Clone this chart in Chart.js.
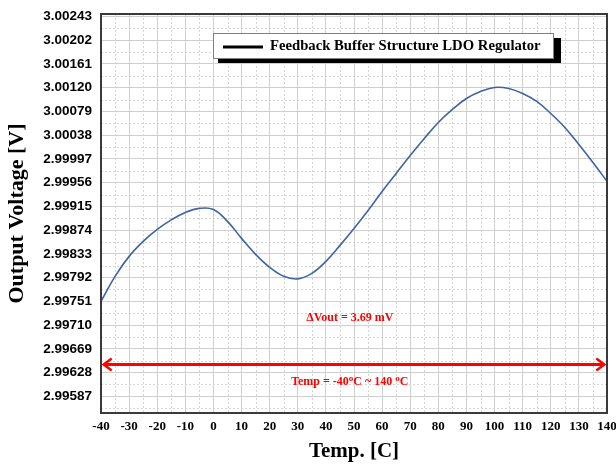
<!DOCTYPE html>
<html>
<head>
<meta charset="utf-8">
<script src="https://cdn.jsdelivr.net/npm/chart.js@4.4.1/dist/chart.umd.min.js"></script>
<style>
html, body { margin: 0; padding: 0; background: #fff; }
#caixa { width: 616px; height: 468px; position: relative; }
</style>
</head>
<body>
<div id="caixa"><canvas id="graficoTensao"></canvas></div>
<script>
// temperatura (C) e tensao de saida (V)
const temperaturas = [-40, -35, -30, -25, -20, -15, -10, -5, 0, 5, 10, 15, 20, 25, 30, 35, 40, 45, 50, 55, 60, 65, 70, 75, 80, 85, 90, 95, 100, 105, 110, 115, 120, 125, 130, 135, 140];
const tensoes = [2.99751, 2.997942, 2.998287, 2.998546, 2.998753, 2.998917, 2.999046, 2.999116, 2.999098, 2.998891, 2.998598, 2.998321, 2.998097, 2.997942, 2.997898, 2.997993, 2.998201, 2.998477, 2.99877, 2.999081, 2.999409, 2.99972, 3.00003, 3.000324, 3.0006, 3.000825, 3.001014, 3.001135, 3.001204, 3.001187, 3.001101, 3.000963, 3.000755, 3.000514, 3.00022, 2.99991, 2.999582];
const ticksY = [2.99587, 2.99628, 2.99669, 2.99710, 2.99751, 2.99792, 2.99833, 2.99874, 2.99915, 2.99956, 2.99997, 3.00038, 3.00079, 3.00120, 3.00161, 3.00202, 3.00243];
const ticksX = [-40, -30, -20, -10, 0, 10, 20, 30, 40, 50, 60, 70, 80, 90, 100, 110, 120, 130, 140];
const nomeSerie = 'Feedback Buffer Structure LDO Regulator';
const textoDelta = 'ΔVout = 3.69 mV';

const ctx = document.getElementById('graficoTensao');

const extras = {
    id: 'extras',
    beforeDatasetsDraw(chart) {
        const { ctx, chartArea: a, scales: { x, y } } = chart;
        ctx.save();
        ctx.strokeStyle = '#d6d6d6';
        ctx.lineWidth = 1;
        ctx.setLineDash([2, 2]);
        // grade secundaria tracejada
        for (let i = 0; i < ticksX.length - 1; i++) {
            const px = Math.round(x.getPixelForValue((ticksX[i] + ticksX[i + 1]) / 2)) + 0.5;
            ctx.beginPath(); ctx.moveTo(px, a.top); ctx.lineTo(px, a.bottom); ctx.stroke();
        }
        const passo = ticksY[1] - ticksY[0];
        const meios = ticksY.slice(0, -1).map(v => v + passo / 2);
        meios.push(ticksY[0] - passo / 2);
        meios.forEach(v => {
            if (v < y.min || v > y.max) return;
            const py = Math.round(y.getPixelForValue(v)) + 0.5;
            ctx.beginPath(); ctx.moveTo(a.left, py); ctx.lineTo(a.right, py); ctx.stroke();
        });
        ctx.restore();
    },
    afterDatasetsDraw(chart) {
        const { ctx, chartArea: a, scales: { x, y } } = chart;
        ctx.save();

        // moldura
        ctx.strokeStyle = '#3a3a3a';
        ctx.lineWidth = 2;
        ctx.strokeRect(a.left, a.top, a.right - a.left, a.bottom - a.top);

        // seta vermelha
        const ys = y.getPixelForValue(2.99642);
        const x1 = x.getPixelForValue(-39.4);
        const x2 = x.getPixelForValue(139.4);
        ctx.strokeStyle = '#ff0000';
        ctx.fillStyle = '#ff0000';
        ctx.lineWidth = 3;
        ctx.beginPath(); ctx.moveTo(x1 + 2, ys); ctx.lineTo(x2 - 2, ys); ctx.stroke();
        ctx.lineWidth = 2.5;
        ctx.beginPath(); ctx.moveTo(x1 + 9, ys - 6); ctx.lineTo(x1 + 1, ys); ctx.lineTo(x1 + 9, ys + 6); ctx.stroke();
        ctx.beginPath(); ctx.moveTo(x2 - 9, ys - 6); ctx.lineTo(x2 - 1, ys); ctx.lineTo(x2 - 9, ys + 6); ctx.stroke();

        // textos vermelhos
        ctx.font = 'bold 12px "Liberation Serif"';
        ctx.textAlign = 'center';
        ctx.textBaseline = 'middle';
        ctx.fillText(textoDelta, x.getPixelForValue(48.5), y.getPixelForValue(2.997217));

        const partes = [['Temp = -40', false], ['o', true], ['C ~ 140 ', false], ['o', true], ['C', false]];
        const fNormal = 'bold 12px "Liberation Serif"';
        const fSup = 'bold 9px "Liberation Serif"';
        let largura = 0;
        partes.forEach(([t, sup]) => { ctx.font = sup ? fSup : fNormal; largura += ctx.measureText(t).width; });
        let cx = x.getPixelForValue(48.5) - largura / 2;
        const cy = y.getPixelForValue(2.996112);
        ctx.textAlign = 'left';
        partes.forEach(([t, sup]) => {
            ctx.font = sup ? fSup : fNormal;
            ctx.fillText(t, cx, sup ? cy - 4 : cy);
            cx += ctx.measureText(t).width;
        });

        // legenda com sombra
        ctx.fillStyle = '#000';
        ctx.fillRect(218, 38, 343, 25);
        ctx.fillStyle = '#fff';
        ctx.fillRect(213, 33, 340, 25);
        ctx.strokeStyle = '#808080';
        ctx.lineWidth = 1;
        ctx.strokeRect(213.5, 33.5, 340, 25);
        ctx.strokeStyle = '#000';
        ctx.lineWidth = 3;
        ctx.beginPath(); ctx.moveTo(223, 47); ctx.lineTo(263, 47); ctx.stroke();
        ctx.fillStyle = '#000';
        ctx.font = 'bold 14.7px "Liberation Serif"';
        ctx.textBaseline = 'middle';
        ctx.fillText(nomeSerie, 270, 46.5);

        ctx.restore();
    }
};

new Chart(ctx.getContext('2d'), {
    type: 'line',
    data: {
        labels: temperaturas,
        datasets: [{
            label: nomeSerie,
            data: temperaturas.map((t, i) => ({ x: t, y: tensoes[i] })),
            borderColor: '#3f63a6',
            borderWidth: 1.6,
            pointRadius: 0,
            tension: 0.4,
            fill: false
        }]
    },
    options: {
        responsive: true,
        maintainAspectRatio: false,
        animation: false,
        layout: {
            padding: { top: 14, right: 9, left: 0, bottom: 0 }
        },
        plugins: {
            legend: { display: false },
            tooltip: { enabled: false }
        },
        scales: {
            x: {
                type: 'linear',
                min: -40,
                max: 140,
                afterBuildTicks: s => { s.ticks = ticksX.map(v => ({ value: v })); },
                ticks: {
                    color: '#000',
                    padding: 6,
                    maxRotation: 0,
                    autoSkip: false,
                    font: { family: 'Liberation Serif', weight: 'bold', size: 13 }
                },
                grid: { color: '#cfcfcf', drawTicks: false },
                border: { display: false },
                title: {
                    display: true,
                    text: 'Temp. [C]',
                    color: '#000',
                    font: { family: 'Liberation Serif', weight: 'bold', size: 21 },
                    padding: { top: 0, bottom: 4 }
                },
                afterFit: s => { s.height = 55; s.paddingLeft = 0; s.paddingRight = 0; }
            },
            y: {
                type: 'linear',
                min: 2.995582,
                max: 3.002473,
                afterBuildTicks: s => { s.ticks = ticksY.map(v => ({ value: v })); },
                ticks: {
                    color: '#000',
                    padding: 9,
                    callback: v => v.toFixed(5),
                    font: { family: 'Liberation Sans', weight: 'bold', size: 13.5 }
                },
                grid: { color: '#cfcfcf', drawTicks: false },
                border: { display: false },
                title: {
                    display: true,
                    text: 'Output Voltage [V]',
                    color: '#000',
                    font: { family: 'Liberation Serif', weight: 'bold', size: 22 },
                    padding: { top: 4, bottom: 0 }
                },
                afterFit: s => { s.width = 101; s.paddingTop = 0; s.paddingBottom = 0; }
            }
        }
    },
    plugins: [extras]
});
</script>
</body>
</html>
